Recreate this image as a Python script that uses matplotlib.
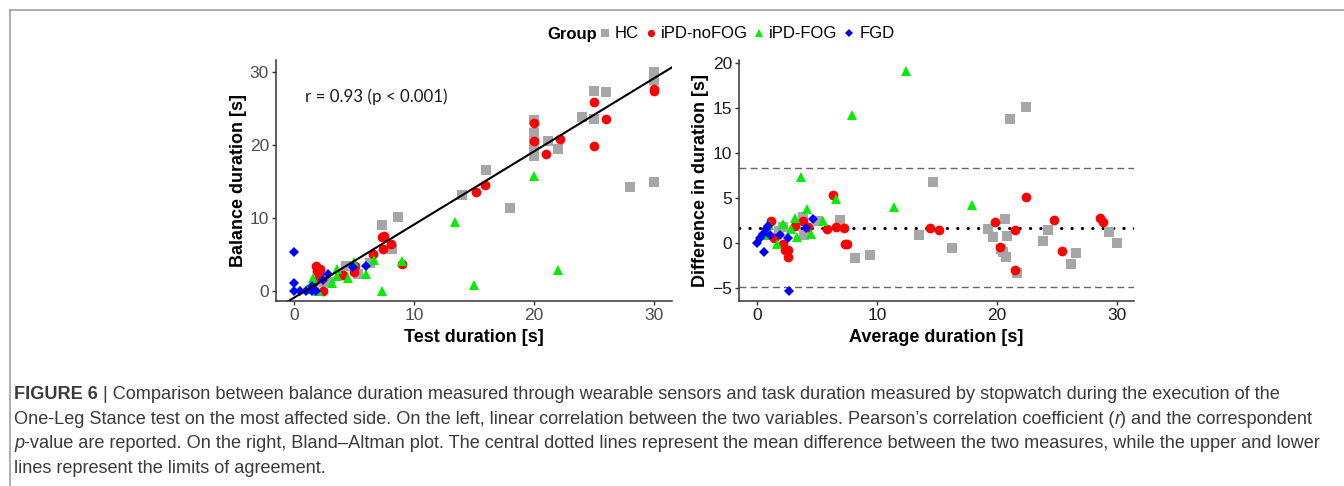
# _*_ coding: utf-8 _*_

"""
one-leg stance: correlation + Bland-Altman (Figure 6)
"""

import numpy as np
import matplotlib
matplotlib.use("Agg")
import matplotlib.pyplot as plt
from matplotlib.lines import Line2D

plt.rcParams["font.family"] = ["Liberation Sans", "DejaVu Sans"]

# test duration (stopwatch) and balance duration (sensors), per group [s]
hc_test = [30.0, 28.0, 18.0, 30.0, 30.0, 25.0, 26.0, 25.0, 24.0, 22.0, 21.2, 20.0, 20.0, 20.0,
           20.0, 20.0, 20.0, 16.0, 14.0, 8.7, 7.3, 8.2, 6.3, 5.3, 4.3, 3.0, 2.5]
hc_balance = [14.9, 14.2, 11.3, 30.0, 28.8, 27.4, 27.2, 23.6, 23.8, 19.4, 20.5, 19.4, 18.5, 20.7,
              21.1, 21.6, 23.4, 16.6, 13.1, 10.1, 9.0, 5.7, 3.9, 2.4, 3.5, 1.3, 1.2]

nofog_test = [30.0, 30.0, 26.0, 25.0, 25.0, 22.2, 21.0, 20.0, 20.0, 15.2, 15.9, 9.0, 7.4, 8.1,
              7.3, 7.5, 6.6, 5.1, 5.0, 4.1, 2.4, 1.7, 2.1, 1.9, 2.2, 1.8]
nofog_balance = [27.3, 27.7, 23.5, 25.9, 19.9, 20.8, 18.7, 20.5, 23.0, 13.6, 14.5, 3.7, 5.7, 6.5,
                 7.4, 7.6, 5.1, 3.4, 2.6, 2.2, 0.0, 1.2, 2.2, 2.7, 3.0, 3.4]

fog_test = [22.0, 15.0, 20.0, 13.4, 7.3, 9.0, 6.7, 6.0, 5.0, 4.5, 3.6, 3.2, 1.6, 2.0, 1.1, 3.6]
fog_balance = [2.9, 0.8, 15.8, 9.4, 0.0, 4.1, 4.3, 2.3, 4.0, 1.8, 3.0, 1.1, 1.8, 0.0, 0.3, 2.1]

fgd_test = [0.0, 0.5, 1.0, 1.5, 1.8, 0.0, 1.5, 2.4, 2.85, 0.0, 4.9, 6.0]
fgd_balance = [0.0, 0.0, 0.0, 0.0, 0.0, 1.1, 0.7, 1.5, 2.35, 5.35, 3.3, 3.4]

group_names = ["HC", "iPD-noFOG", "iPD-FOG", "FGD"]

# regression line and Bland-Altman lines
fit_slope, fit_intercept = 1.0, -0.9
mean_diff, loa_upper, loa_lower = 1.65, 8.3, -4.95

caption_lines = [
    [("FIGURE 6", "bold"), (" | Comparison between balance duration measured through wearable sensors and task "
                            "duration measured by stopwatch during the execution of the", "normal")],
    [("One-Leg Stance test on the most affected side. On the left, linear correlation between the two variables. "
      "Pearson\u2019s correlation coefficient (", "normal"), ("r", "italic"), (") and the correspondent", "normal")],
    [("p", "italic"), ("-value are reported. On the right, Bland\u2013Altman plot. The central dotted lines represent "
                       "the mean difference between the two measures, while the upper and lower", "normal")],
    [("lines represent the limits of agreement.", "normal")],
]

W, H = 1344, 486
fig = plt.figure(figsize=(W / 100, H / 100), dpi=100)
ax1 = fig.add_axes([276 / W, 1 - 301 / H, 396 / W, 241 / H])
ax2 = fig.add_axes([739 / W, 1 - 301 / H, 395 / W, 241 / H])

# marker style per group
styles = [("s", "#a6a6a6", 7.0), ("o", "#ff0000", 7.0), ("^", "#00ee00", 7.5), ("D", "#0000ff", 5.5)]
data = [(hc_test, hc_balance), (nofog_test, nofog_balance), (fog_test, fog_balance), (fgd_test, fgd_balance)]

for (test, bal), (m, c, ms) in zip(data, styles):
    test = np.array(test)
    bal = np.array(bal)
    ax1.plot(test, bal, ls="none", marker=m, color=c, ms=ms, mew=0, zorder=3)
    ax2.plot((test + bal) / 2, test - bal, ls="none", marker=m, color=c, ms=ms, mew=0, zorder=3)

# left: correlation
ax1.set_xlim(-1.5, 31.5)
ax1.set_ylim(-1.35, 31.6)
xs = np.array(ax1.get_xlim())
ax1.plot(xs, fit_slope * xs + fit_intercept, color="black", lw=1.5, zorder=4)
ax1.text(0.9, 26.6, "r = 0.93 (p < 0.001)", fontsize=12.2, family=["Lato", "DejaVu Sans"],
         va="center", ha="left", color="#1a1a1a")
ax1.set_xticks([0, 10, 20, 30])
ax1.set_yticks([0, 10, 20, 30])
ax1.set_xlabel("Test duration [s]", fontsize=13, fontweight="bold", labelpad=4)
ax1.set_ylabel("Balance duration [s]", fontsize=13, fontweight="bold", labelpad=2)

# right: Bland-Altman
ax2.set_xlim(-1.5, 31.45)
ax2.set_ylim(-6.5, 20.33)
ax2.axhline(loa_upper, color="#666666", lw=1.0, ls=(0, (5, 3)), zorder=2)
ax2.axhline(loa_lower, color="#666666", lw=1.0, ls=(0, (5, 3)), zorder=2)
ax2.axhline(mean_diff, color="black", lw=2.2, ls=(0, (0.1, 3.3)), dash_capstyle="round", zorder=2)
ax2.set_xticks([0, 10, 20, 30])
ax2.set_yticks([-5, 0, 5, 10, 15, 20])
ax2.set_xlabel("Average duration [s]", fontsize=13, fontweight="bold", labelpad=4)
ax2.set_ylabel("Difference in duration [s]", fontsize=13, fontweight="bold", labelpad=2)

for ax, lc in [(ax1, "#4d4d4d"), (ax2, "#1a1a1a")]:
    for side in ["top", "right"]:
        ax.spines[side].set_visible(False)
    for side in ["left", "bottom"]:
        ax.spines[side].set_color("#333333")
        ax.spines[side].set_linewidth(1.1)
    ax.tick_params(length=3, width=1, color="#333333", labelsize=12.5, labelcolor=lc, pad=2)

# legend on top
fig.text(547 / W, 1 - 34 / H, "Group", fontsize=12, fontweight="bold", va="center", ha="left")
handles = [Line2D([], [], ls="none", marker=m, color=c, ms=ms * 0.75, mew=0) for m, c, ms in styles]
fig.legend(handles, group_names, loc="center left", bbox_to_anchor=(600 / W, 1 - 34 / H), ncol=4,
           frameon=False, fontsize=12, handlelength=0.6, handletextpad=0.3, columnspacing=0.4,
           borderpad=0, borderaxespad=0)

# caption, drawn piece by piece so bold / italic parts follow each other
renderer = fig.canvas.get_renderer()
for i, line in enumerate(caption_lines):
    x = 14 / W
    y = 1 - (399 + 24.5 * i) / H
    for txt, style in line:
        weight = "bold" if style == "bold" else "normal"
        fstyle = "italic" if style == "italic" else "normal"
        t = fig.text(x, y, txt, fontsize=13.1, fontweight=weight, fontstyle=fstyle, va="baseline",
                     ha="left", color="#3a3a3a")
        x += t.get_window_extent(renderer).width / W

# thin frame round the figure panel
fig.add_artist(Line2D([9.5 / W, 9.5 / W], [0, 1 - 10.5 / H], transform=fig.transFigure, color="#999999", lw=1.1))
fig.add_artist(Line2D([9.5 / W, 1], [1 - 10.5 / H, 1 - 10.5 / H], transform=fig.transFigure, color="#999999", lw=1.1))

fig.savefig("out.png", dpi=100)
